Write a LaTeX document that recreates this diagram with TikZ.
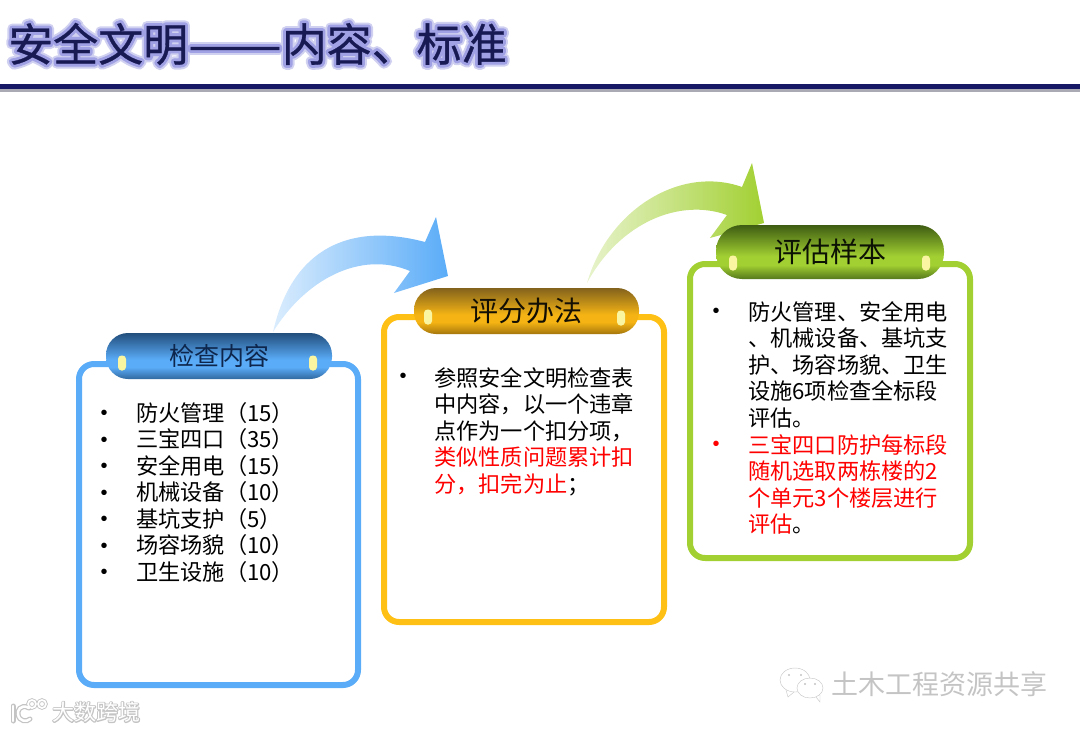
\documentclass[tikz,border=0pt]{standalone}
\usepackage{fontspec}
\usepackage{xcolor}
\setmainfont{Noto Sans CJK SC}
\newfontfamily\bulletfont{Liberation Sans}
\newfontfamily\titlefont[FakeBold=0.7]{Noto Sans CJK SC}
\newfontfamily\dashbold[FakeStretch=1.24,FakeBold=0.7]{Noto Sans CJK SC}
\newfontfamily\dashplain[FakeStretch=1.24]{Noto Sans CJK SC}
\definecolor{titlenavy}{RGB}{24, 26, 84}
\definecolor{titlehalo}{RGB}{160, 160, 228}
\definecolor{ruleshadow}{RGB}{170, 170, 180}
\definecolor{pillnavy}{RGB}{14, 38, 76}
\definecolor{skyline}{RGB}{90, 172, 248}
\definecolor{skydark}{RGB}{34, 78, 124}
\definecolor{skylow}{RGB}{50, 105, 160}
\definecolor{goldline}{RGB}{255, 192, 22}
\definecolor{goldmid}{RGB}{245, 180, 20}
\definecolor{golddark}{RGB}{130, 98, 28}
\definecolor{goldlow}{RGB}{165, 118, 12}
\definecolor{leafline}{RGB}{162, 208, 50}
\definecolor{leafdark}{RGB}{62, 92, 18}
\definecolor{leaflow}{RGB}{85, 120, 28}
\definecolor{pilldot}{RGB}{250, 245, 160}
\definecolor{markgray}{RGB}{196, 196, 196}
\pgfdeclareverticalshading{skypill}{100bp}{color(0bp)=(skylow); color(25bp)=(skylow); color(38bp)=(skyline); color(46bp)=(skyline); color(75bp)=(skydark); color(100bp)=(skydark)}
\pgfdeclareverticalshading{goldpill}{100bp}{color(0bp)=(goldlow); color(25bp)=(goldlow); color(38bp)=(goldmid); color(46bp)=(goldmid); color(75bp)=(golddark); color(100bp)=(golddark)}
\pgfdeclareverticalshading{leafpill}{100bp}{color(0bp)=(leaflow); color(25bp)=(leaflow); color(38bp)=(leafline); color(46bp)=(leafline); color(75bp)=(leafdark); color(100bp)=(leafdark)}
\newcommand{\strokecopy}[3]{\rlap{\special{pdf:code 2 Tr #1 w 1 j 1 J}\textcolor{#2}{#3}\special{pdf:code 0 Tr 1 w 0 j 0 J}}}
\tikzset{
  listbox/.style={line width=6pt, fill=white, rounded corners=15pt},
  pill/.style={minimum height=#1, rounded corners=22pt, inner sep=0pt},
  pilldotmark/.style={fill=pilldot, rounded corners=3.5pt, minimum width=8pt, minimum height=15pt, inner sep=0pt},
  itemtext/.style={anchor=west, inner sep=0pt, font=\fontsize{22.2}{26.6}\selectfont},
  blocktext/.style={anchor=north west, inner sep=0pt, align=left, font=\fontsize{22.2}{26.6}\selectfont},
  bulletmark/.style={inner sep=0pt, font=\bulletfont\fontsize{20}{20}\selectfont}
}

\begin{document}
\begin{tikzpicture}[x=1pt, y=-1pt]
    \useasboundingbox (0,0) rectangle (1080,732);

    % Title and rule
    \node[anchor=west, inner sep=0pt, font=\fontsize{45}{45}\selectfont] (title) at (8,44)
      {\strokecopy{10}{titlehalo!50!white}{安全文明{\dashplain ——}内容、标准}\strokecopy{6}{titlehalo}{安全文明{\dashplain ——}内容、标准}\textcolor{titlenavy}{\titlefont 安全文明{\dashbold ——}内容、标准}};
    \fill[ruleshadow] (0,89) rectangle (1080,91.5);
    \fill[titlenavy!90!blue] (0,84) rectangle (1080,89);

    % Curved arrows
    \shade[left color=skyline!22, right color=skyline] (273,332)
      .. controls (292,248) and (350,222) .. (425,242) -- (436,217) -- (448,276) -- (394,293) -- (410,271)
      .. controls (360,250) and (305,280) .. cycle;
    \shade[left color=leafline!25, right color=leafline] (587,283)
      .. controls (608,210) and (680,165) .. (742,187) -- (752,163) -- (764,223) -- (710,238) -- (727,215)
      .. controls (680,198) and (620,222) .. cycle;

    % Inspection items
    \draw[listbox, draw=skyline] (79,364) rectangle (358,685);
    \node[pill=46pt, minimum width=226pt, shading=skypill, text=pillnavy, font=\fontsize{25}{25}\selectfont] (insphead) at (219,356) {检查内容};
    \node[pilldotmark] (inspdotl) at (122,363) {};
    \node[pilldotmark] (inspdotr) at (313,363) {};
    \foreach \txt [count=\i] in {防火管理（15）,三宝四口（35）,安全用电（15）,机械设备（10）,基坑支护（5）,场容场貌（10）,卫生设施（10）} {
      \node[bulletmark] (inspbul\i) at (104,{415+26.5*(\i-1)}) {•};
      \node[itemtext] (insp\i) at (136,{413+26.5*(\i-1)}) {\txt};
    }

    % Scoring method
    \draw[listbox, draw=goldline] (384,317) rectangle (664,622);
    \node[pill=46pt, minimum width=225pt, shading=goldpill, text=black!85!golddark, font=\fontsize{28}{28}\selectfont] (scorehead) at (526.5,311) {评分办法};
    \node[pilldotmark] (scoredotl) at (428,317) {};
    \node[pilldotmark] (scoredotr) at (621,318) {};
    \node[bulletmark] (scorebul) at (403,378) {•};
    \node[blocktext] (scoretext) at (434,367) {参照安全文明检查表\\中内容，以一个违章\\点作为一个扣分项，\\\textcolor{red}{类似性质问题累计扣}\\\textcolor{red}{分，扣完为止}；};

    % Sample selection
    \draw[listbox, draw=leafline] (690,264) rectangle (970,558);
    \node[pill=54pt, rounded corners=26pt, minimum width=228pt, shading=leafpill, text=black!80!leafdark, font=\fontsize{28}{28}\selectfont] (samplehead) at (830,252) {评估样本};
    \node[pilldotmark] (sampledotl) at (733,263) {};
    \node[pilldotmark] (sampledotr) at (926,263) {};
    \node[bulletmark] (samplebula) at (716,313) {•};
    \node[blocktext] (sampletexta) at (748,301) {防火管理、安全用电\\、机械设备、基坑支\\护、场容场貌、卫生\\设施6项检查全标段\\评估。};
    \node[bulletmark, text=red] (samplebulb) at (716,446) {•};
    \node[blocktext] (sampletextb) at (748,434) {\textcolor{red}{三宝四口防护每标段}\\\textcolor{red}{随机选取两栋楼的2}\\\textcolor{red}{个单元3个楼层进行}\\\textcolor{red}{评估}。};

    % Watermark, lower right
    \draw[markgray, fill=white] (795,680) ellipse (15 and 12);
    \draw[markgray] (786,690) -- (788,697) -- (794,692);
    \draw[markgray, fill=white] (810,688) ellipse (13 and 10);
    \draw[markgray] (816,697) -- (820,702) -- (820,695);
    \foreach \x/\y in {789/675,801/675,805/684,815/684} {
      \fill[markgray] (\x,\y) circle (1.2);
    }
    \node[anchor=west, inner sep=0pt, text=markgray, font=\fontsize{27}{27}\selectfont] (marktext) at (831,684) {土木工程资源共享};

    % Watermark, lower left
    \foreach \wd/\col in {5/markgray,2.5/white} {
      \draw[\col, line width=\wd pt, line cap=round] (13,706) -- (13,721);
      \draw[\col, line width=\wd pt, line cap=round] (29,708) .. controls (20,703) and (17,712) .. (18,714) .. controls (19,722) and (27,722) .. (30,719);
      \draw[\col, line width=\wd pt*0.7] (32,704) circle (4);
      \draw[\col, line width=\wd pt*0.7] (42,704) circle (4);
    }
    \node[anchor=west, inner sep=0pt, font=\fontsize{22}{22}\selectfont] (logotext) at (52,712)
      {\strokecopy{2}{markgray}{大数跨境}\textcolor{white}{大数跨境}};
  \end{tikzpicture}
\end{document}
